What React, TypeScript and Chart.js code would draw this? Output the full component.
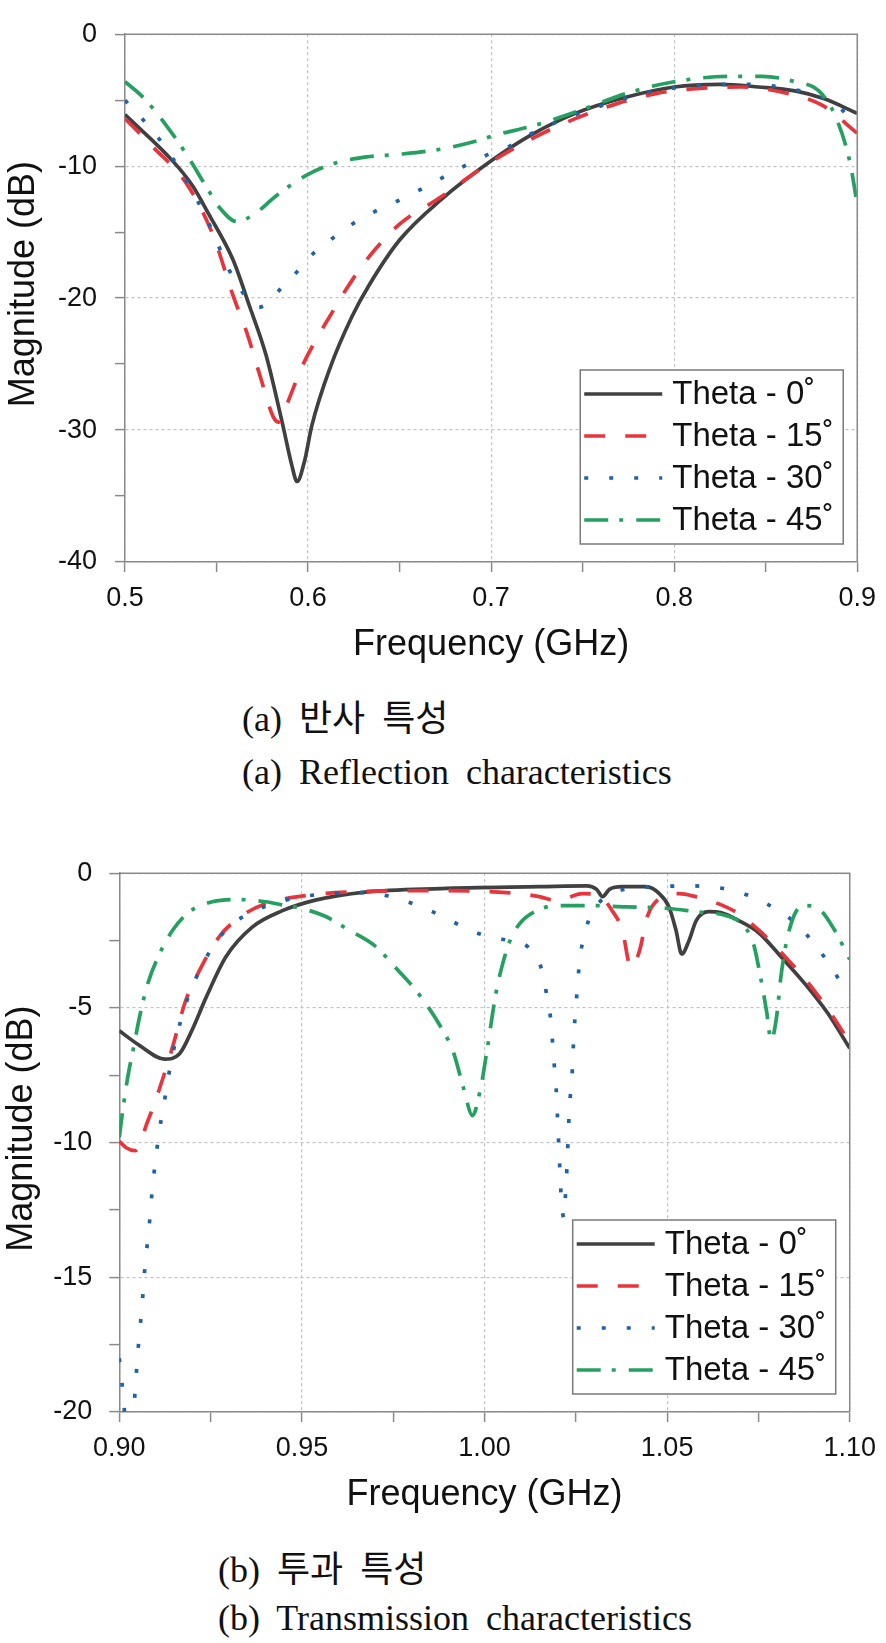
import React, { useEffect, useRef } from 'react';
import { Chart, registerables } from 'chart.js';

Chart.register(...registerables);

// ---------------- legend labels ----------------
const seriesLabels = ['Theta - 0˚', 'Theta - 15˚', 'Theta - 30˚', 'Theta - 45˚'];

// ---------------- (a) Reflection characteristics ----------------
const reflXTickLabels = ['0.5', '0.6', '0.7', '0.8', '0.9'];
const reflYTickLabels = ['-40', '-30', '-20', '-10', '0'];

const reflFreq0 = [0.500, 0.526, 0.537, 0.546, 0.559, 0.568, 0.577, 0.586, 0.591, 0.594, 0.598, 0.602, 0.612, 0.624, 0.633, 0.650, 0.673, 0.701, 0.721, 0.746, 0.773, 0.800, 0.825, 0.846, 0.866, 0.882, 0.900];
const reflMag0 = [-6.1, -9.6, -11.5, -13.7, -17.1, -20.6, -24.3, -29.5, -32.6, -33.9, -32.4, -29.7, -25.3, -21.4, -19.1, -15.6, -12.5, -9.5, -7.7, -6.0, -4.8, -4.0, -3.8, -4.0, -4.3, -4.9, -6.0];

const reflFreq15 = [0.500, 0.515, 0.534, 0.548, 0.559, 0.567, 0.574, 0.581, 0.584, 0.588, 0.592, 0.597, 0.605, 0.614, 0.621, 0.632, 0.650, 0.673, 0.684, 0.701, 0.724, 0.746, 0.768, 0.790, 0.814, 0.836, 0.859, 0.881, 0.900];
const reflMag15 = [-6.4, -8.5, -11.4, -15.2, -19.8, -22.8, -26.0, -29.0, -29.4, -28.2, -26.8, -25.1, -23.0, -20.9, -19.3, -17.1, -14.4, -12.3, -11.2, -9.6, -7.8, -6.4, -5.3, -4.5, -4.1, -4.0, -4.4, -5.4, -7.5];

const reflFreq30 = [0.500, 0.519, 0.534, 0.546, 0.557, 0.563, 0.568, 0.573, 0.578, 0.585, 0.594, 0.603, 0.614, 0.624, 0.637, 0.648, 0.661, 0.673, 0.697, 0.710, 0.721, 0.746, 0.770, 0.786, 0.811, 0.826, 0.839, 0.852, 0.866, 0.889, 0.900];
const reflMag30 = [-5.0, -8.0, -11.2, -14.4, -17.9, -19.3, -20.3, -20.7, -20.4, -19.3, -18.0, -16.6, -15.4, -14.4, -13.4, -12.7, -11.8, -10.9, -9.2, -8.5, -7.6, -6.1, -5.0, -4.4, -3.9, -3.8, -3.8, -3.9, -4.2, -5.4, -7.1];

const reflFreq45 = [0.500, 0.510, 0.523, 0.534, 0.545, 0.552, 0.561, 0.570, 0.583, 0.599, 0.614, 0.632, 0.650, 0.673, 0.692, 0.701, 0.724, 0.746, 0.776, 0.800, 0.830, 0.848, 0.866, 0.879, 0.888, 0.896, 0.900];
const reflMag45 = [-3.6, -4.8, -7.0, -9.2, -11.7, -13.2, -14.2, -13.7, -12.2, -10.7, -9.8, -9.3, -9.1, -8.7, -8.1, -7.7, -6.9, -5.9, -4.4, -3.6, -3.2, -3.2, -3.6, -4.3, -6.2, -9.7, -12.9];

// ---------------- (b) Transmission characteristics ----------------
const transXTickLabels = ['0.90', '0.95', '1.00', '1.05', '1.10'];
const transYTickLabels = ['-20', '-15', '-10', '-5', '0'];

const transFreq0 = [0.900, 0.9056, 0.9124, 0.9165, 0.920, 0.9238, 0.9292, 0.9364, 0.9445, 0.9537, 0.9673, 0.988, 1.0152, 1.028, 1.0307, 1.0323, 1.0342, 1.0377, 1.0442, 1.0478, 1.0505, 1.0524, 1.054, 1.056, 1.058, 1.0614, 1.0649, 1.0695, 1.075, 1.0812, 1.0877, 1.094, 1.100];
const transMag0 = [-5.85, -6.4, -6.9, -6.7, -5.8, -4.6, -3.1, -2.0, -1.4, -1.0, -0.7, -0.57, -0.5, -0.47, -0.6, -0.87, -0.6, -0.5, -0.5, -0.75, -1.25, -2.1, -3.0, -2.5, -1.75, -1.43, -1.47, -1.75, -2.2, -3.1, -4.1, -5.2, -6.5];

const transFreq15 = [0.900, 0.902, 0.9043, 0.9078, 0.911, 0.9147, 0.918, 0.922, 0.9274, 0.9337, 0.940, 0.949, 0.9627, 0.988, 1.006, 1.015, 1.0198, 1.0269, 1.0314, 1.035, 1.0377, 1.0401, 1.0424, 1.0446, 1.0478, 1.0532, 1.0578, 1.064, 1.0695, 1.0758, 1.083, 1.0894, 1.0958, 1.100];
const transMag15 = [-9.95, -10.2, -10.3, -9.2, -8.0, -6.4, -4.8, -3.6, -2.35, -1.57, -1.13, -0.87, -0.7, -0.65, -0.72, -0.87, -1.02, -0.76, -0.83, -1.4, -2.1, -3.5, -2.9, -1.6, -0.95, -0.76, -0.87, -1.13, -1.5, -2.2, -3.2, -4.2, -5.4, -6.3];

const transFreq30 = [0.900, 0.9007, 0.9013, 0.9027, 0.904, 0.9045, 0.905, 0.9056, 0.9062, 0.9067, 0.9072, 0.908, 0.9086, 0.9092, 0.910, 0.9108, 0.912, 0.9142, 0.9174, 0.922, 0.9292, 0.9356, 0.9455, 0.9582, 0.9682, 0.9745, 0.9818, 0.988, 0.9934, 0.9997, 1.0065, 1.012, 1.0157, 1.017, 1.0181, 1.0187, 1.0192, 1.0197, 1.0200, 1.0203, 1.0206, 1.0209, 1.0214, 1.0217, 1.0220, 1.0224, 1.0227, 1.0233, 1.0239, 1.0242, 1.0245, 1.025, 1.0255, 1.0261, 1.0274, 1.0296, 1.0342, 1.0415, 1.0478, 1.0546, 1.0614, 1.0682, 1.0745, 1.080, 1.0853, 1.090, 1.094, 1.0978, 1.100];
const transMag30 = [-18.0, -18.9, -19.8, -21.5, -19.8, -18.9, -17.9, -17.0, -16.1, -15.2, -14.3, -13.4, -12.4, -11.5, -10.6, -9.7, -8.75, -7.0, -5.2, -3.6, -2.1, -1.5, -1.0, -0.75, -0.72, -0.88, -1.2, -1.57, -1.94, -2.3, -2.5, -2.75, -3.6, -4.5, -5.4, -6.4, -7.3, -8.2, -9.1, -10.0, -10.9, -11.8, -12.6, -12.8, -12.3, -11.4, -10.5, -8.6, -7.7, -6.8, -5.9, -5.0, -4.1, -3.2, -2.25, -1.43, -0.8, -0.55, -0.5, -0.47, -0.5, -0.65, -0.95, -1.35, -1.87, -2.57, -3.3, -4.1, -4.55];

const transFreq45 = [0.900, 0.901, 0.9024, 0.9038, 0.9056, 0.9078, 0.911, 0.9147, 0.9192, 0.9255, 0.9328, 0.940, 0.9455, 0.949, 0.9564, 0.9627, 0.970, 0.9763, 0.9818, 0.988, 0.9915, 0.9943, 0.9967, 0.9989, 1.001, 1.003, 1.0048, 1.007, 1.0097, 1.0143, 1.0198, 1.0288, 1.0388, 1.0497, 1.0579, 1.066, 1.0703, 1.0736, 1.0755, 1.0772, 1.0785, 1.0799, 1.0812, 1.0826, 1.085, 1.0877, 1.0913, 1.0958, 1.100];
const transMag45 = [-9.8, -8.75, -7.5, -6.55, -5.3, -4.1, -3.0, -2.1, -1.43, -1.06, -0.98, -1.06, -1.2, -1.28, -1.6, -2.1, -2.7, -3.6, -4.45, -5.7, -6.65, -8.0, -9.0, -8.0, -6.3, -4.55, -3.45, -2.5, -1.86, -1.39, -1.2, -1.2, -1.25, -1.3, -1.43, -1.57, -1.87, -2.6, -3.8, -5.1, -6.2, -5.4, -3.8, -2.6, -1.5, -1.2, -1.3, -2.1, -3.2];

// ---------------- styles ----------------
const PAGE_W = 886;
const FONT = '"Liberation Sans", Arial, Helvetica, sans-serif';
const TEXT = '#111111';
const AXIS = '#8a8a8a';
const GRID = '#c2c2c2';
const LINE_COLORS = ['#404040', '#e8343c', '#1f62a5', '#24a060'];
const LINE_DASHES = [[], [21, 20], [4, 21], [24, 11, 4, 13]];
const LINE_WIDTHS = [3.7, 3.7, 3.7, 3.7];

const frameLegendPlugin = {
  id: 'frameLegend',
  afterDraw(chart: any, _args: any, opts: any) {
    const { ctx, chartArea: a } = chart;
    ctx.save();
    // top and right edges of the plot frame
    ctx.setLineDash([]);
    ctx.strokeStyle = AXIS;
    ctx.lineWidth = 1.5;
    ctx.beginPath();
    ctx.moveTo(a.left, a.top);
    ctx.lineTo(a.right, a.top);
    ctx.lineTo(a.right, a.bottom);
    ctx.stroke();

    // y axis title
    ctx.save();
    ctx.fillStyle = TEXT;
    ctx.font = `36px ${FONT}`;
    ctx.textAlign = 'center';
    ctx.textBaseline = 'alphabetic';
    ctx.translate(opts.yTitleX, (a.top + a.bottom) / 2 + opts.yTitleShift);
    ctx.rotate(-Math.PI / 2);
    ctx.fillText(opts.yTitle, 0, 0);
    ctx.restore();

    // legend box
    const bx = a.right - 277;
    const by = a.bottom - 192;
    const bw = 263;
    const bh = 174;
    ctx.fillStyle = '#ffffff';
    ctx.fillRect(bx, by, bw, bh);
    ctx.strokeStyle = '#7a7a7a';
    ctx.lineWidth = 1.5;
    ctx.strokeRect(bx, by, bw, bh);
    chart.data.datasets.forEach((ds: any, i: number) => {
      const y = by + 24 + i * 42;
      ctx.save();
      ctx.strokeStyle = ds.borderColor;
      ctx.lineWidth = ds.borderWidth;
      ctx.lineCap = 'butt';
      ctx.setLineDash(ds.borderDash || []);
      ctx.beginPath();
      ctx.moveTo(bx + 4, y);
      ctx.lineTo(bx + 82, y);
      ctx.stroke();
      ctx.restore();
      ctx.fillStyle = TEXT;
      ctx.font = `33px ${FONT}`;
      ctx.textAlign = 'left';
      ctx.textBaseline = 'middle';
      ctx.fillText(ds.label, bx + 92, y + 1);
    });
    ctx.restore();
  },
};

interface PanelProps {
  top: number;
  height: number;
  freqs: number[][];
  mags: number[][];
  xMin: number;
  xMax: number;
  xStep: number;
  xLabels: string[];
  yMin: number;
  yMax: number;
  yStep: number;
  yLabels: string[];
  plotLeft: number;
  plotRight: number;
  plotTop: number;
  plotBottom: number;
  yLabelPad: number;
  yTitleX: number;
}

function Panel(p: PanelProps) {
  const ref = useRef<HTMLCanvasElement>(null);
  useEffect(() => {
    const canvas = ref.current;
    if (!canvas) return;
    const datasets = p.freqs.map((fr, i) => ({
      label: seriesLabels[i],
      data: fr.map((f, j) => ({ x: f, y: p.mags[i][j] })),
      borderColor: LINE_COLORS[i],
      borderWidth: LINE_WIDTHS[i],
      borderDash: LINE_DASHES[i],
      borderCapStyle: 'butt',
      borderJoinStyle: 'round',
      pointRadius: 0,
      pointHoverRadius: 0,
      fill: false,
      cubicInterpolationMode: 'monotone',
      clip: 0,
      order: 3 - i,
    }));
    const chart = new Chart(canvas, {
      type: 'line',
      data: { datasets } as any,
      options: {
        responsive: false,
        animation: false,
        devicePixelRatio: 1,
        events: [],
        layout: { padding: { left: 0, top: p.plotTop, right: PAGE_W - p.plotRight, bottom: 0 } },
        plugins: {
          legend: { display: false },
          tooltip: { enabled: false },
          frameLegend: { yTitle: 'Magnitude (dB)', yTitleX: p.yTitleX, yTitleShift: -14 },
        } as any,
        scales: {
          x: {
            type: 'linear',
            min: p.xMin,
            max: p.xMax,
            afterFit: (s: any) => {
              s.height = p.height - p.plotBottom;
            },
            ticks: {
              stepSize: p.xStep,
              autoSkip: false,
              maxRotation: 0,
              padding: 10,
              color: TEXT,
              font: { family: FONT, size: 27 },
              callback: (_v: any, i: number) => (i % 2 === 0 ? p.xLabels[i / 2] : ''),
            },
            grid: {
              color: (c: any) => (c.index % 2 === 0 ? GRID : 'rgba(0,0,0,0)'),
              lineWidth: 1.2,
              tickLength: 10,
              tickColor: AXIS,
              tickWidth: 1.5,
              tickBorderDash: [],
            },
            border: { color: AXIS, width: 1.5, dash: [3, 3] },
            title: {
              display: true,
              text: 'Frequency (GHz)',
              color: TEXT,
              font: { family: FONT, size: 36 },
              padding: { top: 0, bottom: 13 },
            },
          },
          y: {
            type: 'linear',
            min: p.yMin,
            max: p.yMax,
            afterFit: (s: any) => {
              s.width = p.plotLeft;
            },
            ticks: {
              stepSize: p.yStep,
              autoSkip: false,
              padding: p.yLabelPad,
              color: TEXT,
              font: { family: FONT, size: 27 },
              callback: (_v: any, i: number) => (i % 2 === 0 ? p.yLabels[i / 2] : ''),
            },
            grid: {
              color: (c: any) => (c.index % 2 === 0 ? GRID : 'rgba(0,0,0,0)'),
              lineWidth: 1.2,
              tickLength: 10,
              tickColor: AXIS,
              tickWidth: 1.5,
              tickBorderDash: [],
            },
            border: { color: AXIS, width: 1.5, dash: [3, 3] },
            title: { display: false },
          },
        } as any,
      },
      plugins: [frameLegendPlugin],
    } as any);
    return () => chart.destroy();
  }, []);
  return (
    <canvas
      ref={ref}
      width={PAGE_W}
      height={p.height}
      style={{ position: 'absolute', left: 0, top: p.top, width: PAGE_W, height: p.height }}
    />
  );
}

const captionBase: React.CSSProperties = {
  position: 'absolute',
  margin: 0,
  fontFamily: '"Liberation Serif", "Times New Roman", "Noto Sans CJK KR", serif',
  fontSize: 36,
  lineHeight: '44px',
  wordSpacing: 8,
  whiteSpace: 'pre',
  color: '#111',
};

export default function App() {
  return (
    <div style={{ position: 'absolute', left: 0, top: 0, width: PAGE_W, height: 1643, background: '#fff' }}>
      <Panel
        top={0}
        height={680}
        freqs={[reflFreq0, reflFreq15, reflFreq30, reflFreq45]}
        mags={[reflMag0, reflMag15, reflMag30, reflMag45]}
        xMin={0.5}
        xMax={0.9}
        xStep={0.05}
        xLabels={reflXTickLabels}
        yMin={-40}
        yMax={0}
        yStep={5}
        yLabels={reflYTickLabels}
        plotLeft={125}
        plotRight={858}
        plotTop={22.7}
        plotBottom={562}
        yLabelPad={18}
        yTitleX={34}
      />
      <div style={{ ...captionBase, left: 242, top: 697 }}>(a) 반사 특성</div>
      <div style={{ ...captionBase, left: 242, top: 750 }}>(a) Reflection characteristics</div>
      <Panel
        top={840}
        height={690}
        freqs={[transFreq0, transFreq15, transFreq30, transFreq45]}
        mags={[transMag0, transMag15, transMag30, transMag45]}
        xMin={0.9}
        xMax={1.1}
        xStep={0.025}
        xLabels={transXTickLabels}
        yMin={-20}
        yMax={0}
        yStep={2.5}
        yLabels={transYTickLabels}
        plotLeft={119.3}
        plotRight={855.7}
        plotTop={29.3}
        plotBottom={572}
        yLabelPad={17}
        yTitleX={32}
      />
      <div style={{ ...captionBase, left: 218, top: 1548 }}>(b) 투과 특성</div>
      <div style={{ ...captionBase, left: 218, top: 1596 }}>(b) Transmission characteristics</div>
    </div>
  );
}
